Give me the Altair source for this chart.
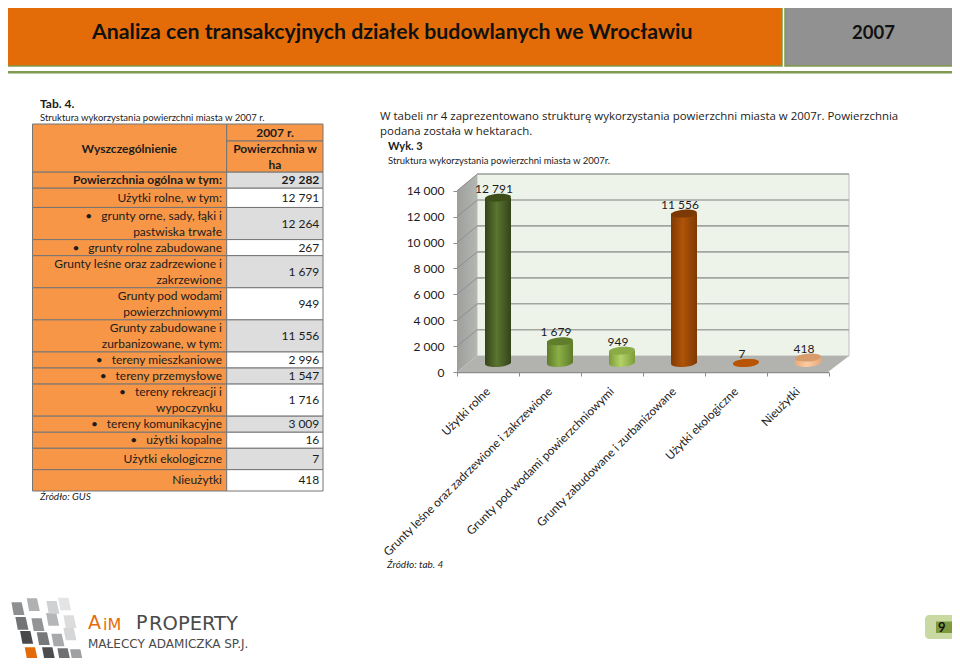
import altair as alt
import pandas as pd

W, H = 944, 650

# ---------- chart data ----------
categories = ["Użytki rolne", "Grunty leśne oraz zadrzewione i zakrzewione",
              "Grunty pod wodami powierzchniowymi", "Grunty zabudowane i zurbanizowane",
              "Użytki ekologiczne", "Nieużytki"]
values = [12791, 1679, 949, 11556, 7, 418]
axis_ticks = [0, 2000, 4000, 6000, 8000, 10000, 12000, 14000]

# ---------- table data ----------
table_labels = [
    "Powierzchnia ogólna w tym:", "Użytki rolne, w tym:",
    "•\u2003grunty orne, sady, łąki i|pastwiska trwałe", "•\u2003grunty rolne zabudowane",
    "Grunty leśne oraz zadrzewione i|zakrzewione", "Grunty pod wodami|powierzchniowymi",
    "Grunty zabudowane i|zurbanizowane, w tym:", "•\u2003tereny mieszkaniowe",
    "•\u2003tereny przemysłowe", "•\u2003tereny rekreacji i|wypoczynku",
    "•\u2003tereny komunikacyjne", "•\u2003użytki kopalne", "Użytki ekologiczne", "Nieużytki"]
table_values = ["29 282", "12 791", "12 264", "267", "1 679", "949", "11 556", "2 996",
                "1 547", "1 716", "3 009", "16", "7", "418"]
row_lines = [1, 1.2, 2, 1, 2, 2, 2, 1, 1, 2, 1, 1, 1.33, 1.33]

FONT = "Lato"
DARK = "#1c1c1c"


def px():
    return alt.Scale(domain=[0, 960], range=[-8, 952], nice=False, zero=False)


def py():
    return alt.Scale(domain=[0, 666], range=[-8, 658], nice=False, zero=False)


def X(f="x"):
    return alt.X(f"{f}:Q", scale=px(), axis=None)


def Y(f="y"):
    return alt.Y(f"{f}:Q", scale=py(), axis=None)


def boxes(rows, **kw):
    df = pd.DataFrame(rows, columns=["x", "x2", "y", "y2", "c"])
    return alt.Chart(df).mark_rect(**kw).encode(
        x=X(), x2="x2:Q", y=Y(), y2="y2:Q",
        fill=alt.Fill("c:N", scale=None))


def text(rows, size=12, weight="normal", align="left", style="normal", font=FONT,
         color=DARK, **kw):
    df = pd.DataFrame(rows, columns=["x", "y", "t"])
    return alt.Chart(df).mark_text(fontSize=size, fontWeight=weight, align=align,
                                   fontStyle=style, font=font, color=color,
                                   baseline="middle", **kw).encode(
        x=X(), y=Y(), text="t:N")


def grad2(*stops):
    offs = [0, 0.45, 1] if len(stops) == 3 else [0, 1]
    return alt.LinearGradient(gradient="linear",
                              stops=[alt.GradientStop(color=c, offset=o) for c, o in zip(stops, offs)],
                              x1=0, x2=1, y1=0, y2=0)


layers = []

# ---------- page header ----------
layers.append(boxes([[0, 782, 0, 66, "#E36C09"], [785, 960, 0, 66, "#919191"]],
                    stroke="#7F9A48", strokeWidth=1.5))
layers.append(boxes([[0, 960, 71, 73.5, "#7F9A50"]]))
layers.append(text([[92, 33, "Analiza cen transakcyjnych działek budowlanych we Wrocławiu"]],
                   size=21.3, weight="bold", color="#111111"))
layers.append(text([[852, 33, "2007"]], size=18.5, weight="bold", color="#111111"))

# ---------- left captions ----------
layers.append(text([[40, 104, "Tab. 4."]], size=12, weight="bold"))
layers.append(text([[40, 118, "Struktura wykorzystania powierzchni miasta w 2007 r."]], size=9.5))
layers.append(text([[40, 497, "Źródło: GUS"]], size=10, style="italic"))

# ---------- table, rows placed by a line-count scale ----------
edges = [3.0]
for n in row_lines:
    edges.append(edges[-1] + n)
total = edges[-1]
stripe = ["#DDDDDD", "#FFFFFF"]
tbl = [[32.5, 226.7, 0, 3, "#F79646"], [226.7, 323, 0, 1.06, "#F79646"],
       [226.7, 323, 1.06, 3, "#F79646"]]
lab_rows, val_rows, bold_rows = [], [], []
for i, (lab, val) in enumerate(zip(table_labels, table_values)):
    a, b = edges[i], edges[i + 1]
    tbl.append([32.5, 226.7, a, b, "#F79646"])
    tbl.append([226.7, 323, a, b, stripe[i % 2]])
    mid = (a + b) / 2
    lines = lab.split("|")
    for k, line in enumerate(lines):
        row = [222, mid + k - (len(lines) - 1) / 2, line]
        (bold_rows if i == 0 else lab_rows).append(row)
    (bold_rows if i == 0 else val_rows).append([319.3, mid, val])


def rowy():
    return alt.Scale(domain=[0, total], range=[116, 483], nice=False, zero=False)


tdf = pd.DataFrame(tbl, columns=["x", "x2", "y", "y2", "c"])
layers.append(alt.Chart(tdf).mark_rect(stroke="#757575", strokeWidth=1).encode(
    x=X(), x2="x2:Q", y=alt.Y("y:Q", scale=rowy(), axis=None), y2="y2:Q",
    fill=alt.Fill("c:N", scale=None)))


def table_text(rows, weight, align):
    df = pd.DataFrame(rows, columns=["x", "y", "t"])
    return alt.Chart(df).mark_text(font=FONT, fontSize=12, fontWeight=weight, align=align,
                                   baseline="middle", color=DARK).encode(
        x=X(), y=alt.Y("y:Q", scale=rowy(), axis=None), text="t:N")


layers.append(table_text(lab_rows + val_rows, "normal", "right"))
layers.append(table_text(bold_rows, "bold", "right"))
layers.append(table_text([[129.3, 1.56, "Wyszczególnienie"], [275, 0.56, "2007 r."],
                          [275, 1.56, "Powierzchnia w"], [275, 2.56, "ha"]], "bold", "center"))

# ---------- right-hand paragraph ----------
layers.append(text([[380, 117, "W tabeli nr 4 zaprezentowano strukturę wykorzystania powierzchni miasta w 2007r. Powierzchnia"],
                    [380, 132, "podana została w hektarach."]], size=11.45, font="Open Sans"))
layers.append(text([[388, 147, "Wyk. 3"]], size=11, weight="bold"))
layers.append(text([[388, 161, "Struktura wykorzystania powierzchni miasta w 2007r."]], size=9.5))
layers.append(text([[387, 565, "Źródło: tab. 4"]], size=10, style="italic"))

# ---------- 3-D chart walls ----------
wall_back = alt.Scale(domain=[0, 14000], range=[347.7, 166], nice=False, zero=False)
wall_front = alt.Scale(domain=[0, 14000], range=[364, 182.7], nice=False, zero=False)
bar_y = lambda: alt.Scale(domain=[0, 14000], range=[355, 174], nice=False, zero=False)
bar_x = lambda: alt.Scale(domain=categories, range=[459, 831], paddingInner=0, paddingOuter=0)
axis_x = lambda: alt.Scale(domain=categories, range=[448.5, 820.5], paddingInner=0, paddingOuter=0)

layers.append(boxes([[477, 849, 174, 356, "#EEF3EA"]], stroke="#BDBDBD", strokeWidth=1))

side = pd.DataFrame({"x": [457, 477], "y": [190.7, 174], "y2": [372, 356]})
layers.append(alt.Chart(side).mark_area(color=grad2("#9C9F9B", "#B4B6B2")).encode(
    x=X(), y=Y(), y2="y2:Q"))
floor = pd.DataFrame({"y": [356, 372], "x": [477, 457], "x2": [849, 828]})
layers.append(alt.Chart(floor).mark_area(orient="horizontal", color="#B2B3AE").encode(
    y=Y(), x=X(), x2="x2:Q"))

ticks = pd.DataFrame({"v": axis_ticks})
layers.append(alt.Chart(ticks[ticks.v > 0]).mark_rule(color="#A3A69F", strokeWidth=1.6).encode(
    x=alt.value(469), x2=alt.value(841),
    y=alt.Y("v:Q", scale=wall_back, axis=None)))
layers.append(alt.Chart(ticks[ticks.v > 0]).transform_calculate(b="datum.v + 1255").mark_rule(
    color="#8C8F8B", strokeWidth=1).encode(
    x=alt.value(449), x2=alt.value(469),
    y=alt.Y("v:Q", scale=wall_front, axis=None), y2="b:Q"))

# real axes of the chart
layers.append(alt.Chart(ticks).mark_rule(opacity=0).encode(
    y=alt.Y("v:Q", scale=wall_front, title=None,
            axis=alt.Axis(orient="left", offset=-449, values=axis_ticks, grid=False,
                          domainColor="#8C8C8C", tickColor="#8C8C8C", tickSize=4,
                          labelPadding=9, labelFont=FONT, labelFontSize=12,
                          labelColor=DARK,
                          labelExpr="replace(format(datum.value, ','), ',', ' ')"))))
catdf = pd.DataFrame({"c": categories, "v": values})
layers.append(alt.Chart(catdf).mark_rule(opacity=0).encode(
    x=alt.X("c:N", sort=categories, scale=axis_x(), title=None,
            axis=alt.Axis(orient="bottom", offset=-(H - 364), grid=False,
                          domainColor="#8C8C8C", domainWidth=1.5, tickColor="#8C8C8C",
                          tickSize=4, tickBand="extent", labelAngle=-45, labelAlign="right",
                          labelBaseline="middle", labelPadding=13, labelFont=FONT,
                          labelFontSize=11.8, labelColor=DARK, labelLimit=400))))

# ---------- cylinders ----------
PALETTE = [("#34431A", "#5A7530", "#3D4E19"), ("#5D7B28", "#8BAF47", "#5F7D2A"),
           ("#7C9C38", "#B4D26A", "#8AAB46"), ("#7E3A04", "#B05408", "#7A3905"),
           ("#B85505", "#C65E07", "#B85505"), ("#EAA97A", "#FCCBA3", "#D79C6C")]

ELLIPSE = "M -1 0 A 1 0.3 0 1 1 1 0 A 1 0.3 0 1 1 -1 0 Z"
for i, (cat, val) in enumerate(zip(categories, values)):
    edge, mid, top = PALETTE[i]
    one = catdf.iloc[[i]]
    base = one.assign(v=0)
    xe = alt.X("c:N", sort=categories, scale=bar_x(), axis=None)
    layers.append(alt.Chart(base).mark_point(shape=ELLIPSE, size=676, filled=True, opacity=1,
                                             fill=grad2(edge, mid, edge), strokeWidth=0, angle=356).encode(
        x=xe, y=alt.Y("v:Q", scale=bar_y(), axis=None)))
    layers.append(alt.Chart(one).mark_bar(size=26, fill=grad2(edge, mid, edge)).encode(
        x=xe, y=alt.Y("v:Q", scale=bar_y(), axis=None)))
    layers.append(alt.Chart(one).mark_point(shape=ELLIPSE, size=676, filled=True, opacity=1,
                                            fill=top, strokeWidth=0, angle=356).encode(
        x=xe, y=alt.Y("v:Q", scale=bar_y(), axis=None)))

layers.append(alt.Chart(catdf).transform_calculate(
    t="replace(format(datum.v, ','), ',', ' ')").mark_text(
    font=FONT, fontSize=12, color=DARK, dx=-4, dy=-9, baseline="middle").encode(
    x=alt.X("c:N", sort=categories, scale=bar_x(), axis=None),
    y=alt.Y("v:Q", scale=bar_y(), axis=None), text="t:N"))

# ---------- logo ----------
logo_cells = [(92, 191, "#E36C09"), (144, 191, "#4D4D4F"), (190, 194, "#6F7072"), (228, 197, "#A0A1A3"),
              (78, 142, "#48494B"), (128, 146, "#77787A"), (172, 150, "#A8A9AB"), (208, 132, "#D5D6D7"),
              (64, 100, "#737476"), (112, 104, "#939496"), (156, 88, "#B5B6B7"), (208, 95, "#DCDCDC"),
              (52, 56, "#8E8F91"), (98, 44, "#B0B1B2"), (157, 52, "#D0D1D2"), (192, 42, "#E4E4E4")]
logo = pd.DataFrame([[a / 3, 590 + b / 3, c] for a, b, c in logo_cells], columns=["x", "y", "c"])
PARA = "M -0.75 -0.8 L 0.55 -0.8 L 0.9 0.8 L -0.45 0.8 Z"
layers.append(alt.Chart(logo).mark_point(shape=PARA, size=250, filled=True, opacity=1, strokeWidth=0).encode(
    x=X(), y=Y(), fill=alt.Fill("c:N", scale=None)))
LOGO_FONT = "DejaVu Sans"
layers.append(text([[88, 623, "A"]], size=19, font=LOGO_FONT, color="#E36C09"))
layers.append(text([[103, 624.5, "iM"]], size=16, font=LOGO_FONT, color="#E36C09"))
layers.append(text([[136, 623, "P"]], size=19, font=LOGO_FONT, color="#4A4A4A"))
layers.append(text([[149, 624, "ROPERTY"]], size=19.5, font=LOGO_FONT, color="#4A4A4A"))
layers.append(text([[88, 644, "MAŁECCY ADAMICZKA SP.J."]], size=12, font=LOGO_FONT, color="#4A4A4A"))

# ---------- page number ----------
layers.append(boxes([[925, 960, 615, 639, "#C8DAA2"]], cornerRadius=4))
layers.append(boxes([[936, 960, 621.5, 633, "#7F9A3E"]]))
layers.append(text([[938, 627.5, "9"]], size=13, weight="bold", color="#111111"))

chart = alt.layer(*layers).resolve_scale(x="independent", y="independent").properties(
    width=W, height=H, padding=0, background="white",
    autosize=alt.AutoSizeParams(type="none")
).configure_view(stroke=None)

chart.save("out.html", embed_options={"renderer": "svg", "actions": False})
